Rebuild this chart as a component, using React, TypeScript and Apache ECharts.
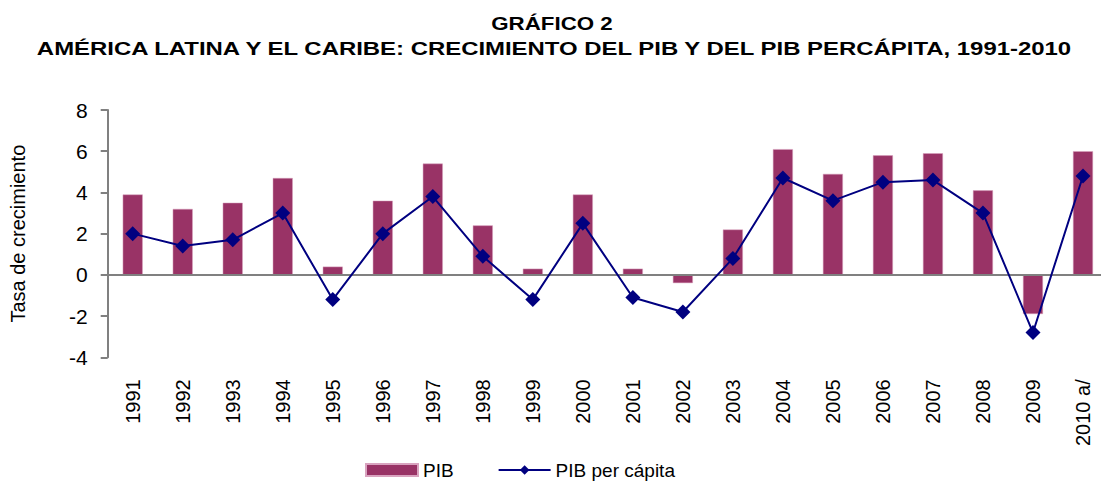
import React, { useEffect, useRef } from "react";
import * as echarts from "echarts";

const categories = ["1991","1992","1993","1994","1995","1996","1997","1998","1999","2000","2001","2002","2003","2004","2005","2006","2007","2008","2009","2010 a/"];
const pib = [3.9, 3.2, 3.5, 4.7, 0.4, 3.6, 5.4, 2.4, 0.3, 3.9, 0.3, -0.4, 2.2, 6.1, 4.9, 5.8, 5.9, 4.1, -1.9, 6.0];
const pibPerCapita = [2.0, 1.4, 1.7, 3.0, -1.2, 2.0, 3.8, 0.9, -1.2, 2.5, -1.1, -1.8, 0.8, 4.7, 3.6, 4.5, 4.6, 3.0, -2.8, 4.8];
const yTicks = { min: -4, max: 8, interval: 2 };
const titleLines = ["GRÁFICO 2", "AMÉRICA LATINA Y EL CARIBE: CRECIMIENTO DEL PIB Y DEL PIB PERCÁPITA, 1991-2010"];

const FONT = "'Liberation Sans', Arial, sans-serif";

export default function App() {
  const ref = useRef<HTMLDivElement>(null);
  useEffect(() => {
    if (!ref.current) return;
    const chart = echarts.init(ref.current, null, { renderer: "svg" });
    chart.setOption({
      animation: false,
      backgroundColor: "#ffffff",
      textStyle: { fontFamily: FONT },
      graphic: [
        {
          type: "text",
          x: 552,
          y: 24,
          scaleX: 1.24,
          style: {
            text: titleLines[0],
            fontFamily: FONT,
            fontWeight: "bold",
            fontSize: 18,
            fill: "#000",
            textAlign: "center",
            textVerticalAlign: "middle",
          },
        },
        {
          type: "text",
          x: 554,
          y: 49,
          scaleX: 1.33,
          style: {
            text: titleLines[1],
            fontFamily: FONT,
            fontWeight: "bold",
            fontSize: 18,
            fill: "#000",
            textAlign: "center",
            textVerticalAlign: "middle",
          },
        },
      ],
      legend: {
        top: 455,
        left: 360,
        padding: 5,
        itemWidth: 52,
        itemHeight: 12,
        itemGap: 44,
        textStyle: { fontFamily: FONT, fontSize: 19, color: "#000", lineHeight: 20 },
        data: [
          { name: "PIB", icon: "rect" },
          { name: "PIB per cápita" },
        ],
      },
      grid: { left: 107.7, right: -7, top: 110, bottom: 123.7, containLabel: false, outerBoundsMode: "none" },
      xAxis: {
        type: "category",
        data: categories,
        axisLine: { show: false },
        axisTick: { show: false },
        axisLabel: { rotate: 90, fontSize: 20, color: "#000", margin: 22, fontFamily: FONT, interval: 0 },
      },
      yAxis: {
        type: "value",
        min: yTicks.min,
        max: yTicks.max,
        interval: yTicks.interval,
        name: "Tasa de crecimiento",
        nameLocation: "middle",
        nameGap: 80,
        nameRotate: 90,
        nameTextStyle: { fontSize: 20, color: "#000", fontFamily: FONT },
        axisLine: { show: true, lineStyle: { color: "#808080", width: 2 } },
        axisTick: { show: true, length: 7, lineStyle: { color: "#808080", width: 2 } },
        splitLine: { show: false },
        axisLabel: { fontSize: 21, color: "#000", margin: 20, fontFamily: FONT },
      },
      series: [
        {
          name: "PIB",
          type: "bar",
          data: pib,
          barWidth: 20,
          itemStyle: { color: "#993366", borderColor: "#d9a3bf", borderWidth: 0.5 },
          markLine: {
            silent: true,
            symbol: "none",
            label: { show: false },
            lineStyle: { color: "#808080", width: 2, type: "solid" },
            data: [{ yAxis: 0 }],
          },
        },
        {
          name: "PIB per cápita",
          type: "line",
          data: pibPerCapita,
          symbol: "diamond",
          symbolSize: 15,
          lineStyle: { color: "#000080", width: 2 },
          itemStyle: { color: "#000080" },
          z: 5,
        },
      ],
    });
    return () => chart.dispose();
  }, []);
  return <div ref={ref} style={{ position: "fixed", left: 0, top: 0, width: 1101, height: 481 }} />;
}
